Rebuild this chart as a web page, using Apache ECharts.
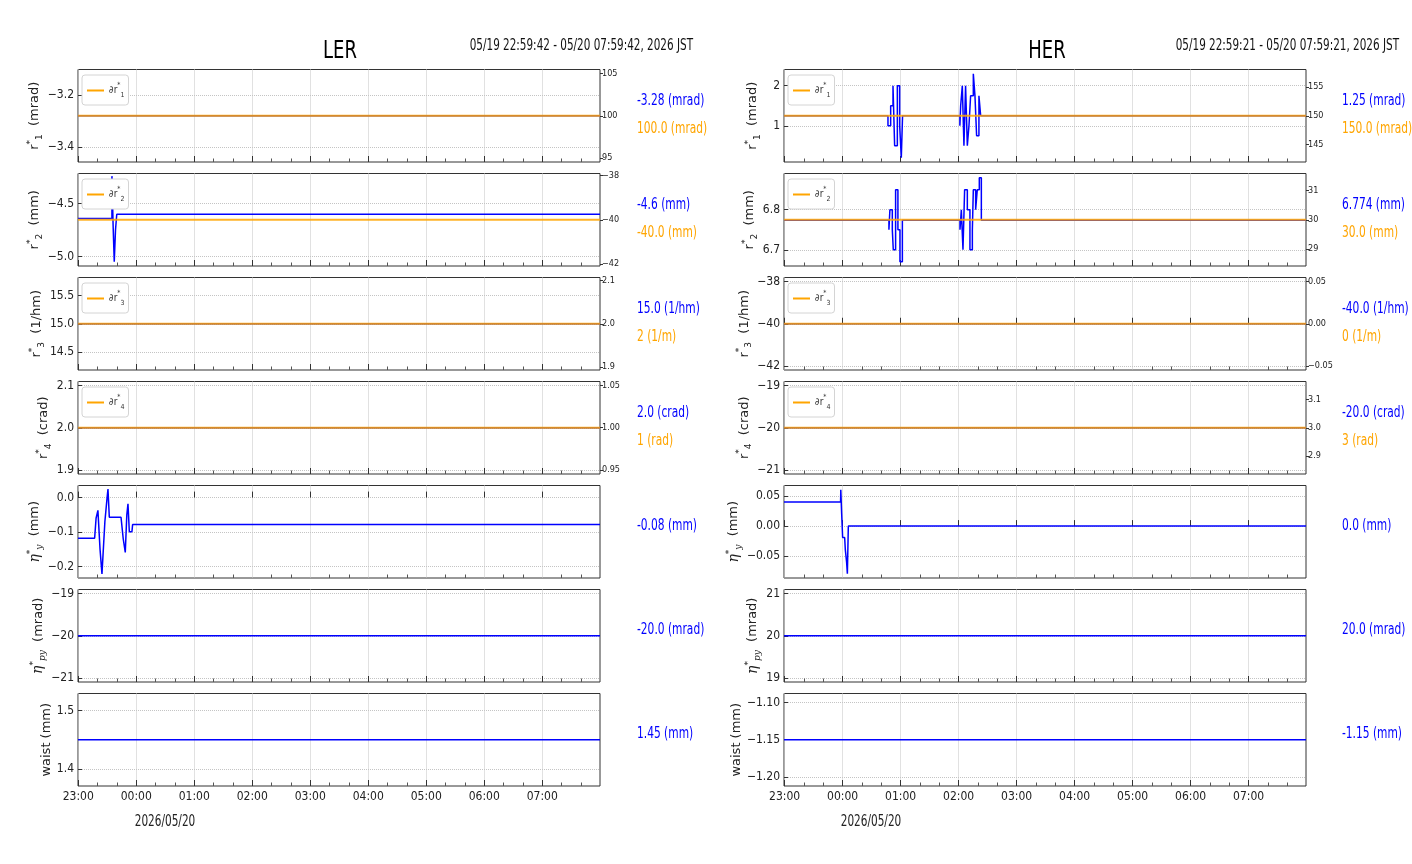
<!DOCTYPE html>
<html>
<head>
<meta charset="utf-8">
<script src="https://cdn.jsdelivr.net/npm/echarts@6/dist/echarts.min.js"></script>
<style>
html, body { margin: 0; padding: 0; background: #fff; }
#chart { width: 1412px; height: 864px; }
</style>
</head>
<body>
<div id="chart"></div>
<script>
// times are minutes after 2026/05/19 23:00 JST
var lerStart = -0.3, lerEnd = 539.7;     // 22:59:42 - 07:59:42
var herStart = -0.65, herEnd = 539.35;   // 22:59:21 - 07:59:21
var hourTicks = [0, 60, 120, 180, 240, 300, 360, 420, 480];
var minorTicks = [20, 40, 80, 100, 140, 160, 200, 220, 260, 280, 320, 340, 380, 400, 440, 460, 500, 520];

// LER readings [minute, value]
var lerR1 = [[lerStart, -3.28], [lerEnd, -3.28]];
var lerR2 = [[lerStart, -4.64], [34.8, -4.24], [36.0, -4.7], [37.2, -5.05], [38.5, -4.75], [39.8, -4.6], [lerEnd, -4.6]];
var lerR3 = [[lerStart, 15.0], [lerEnd, 15.0]];
var lerR4 = [[lerStart, 2.0], [lerEnd, 2.0]];
var lerEtaY = [[lerStart, -0.118], [16.9, -0.118], [18.4, -0.06], [20.3, -0.037], [22.5, -0.15], [24.5, -0.221],
  [27.5, -0.07], [29.8, 0.0], [30.7, 0.025], [31.4, 0.025], [32.1, -0.057], [44.2, -0.057], [46.5, -0.12],
  [48.6, -0.159], [50.2, -0.05], [51.4, -0.018], [52.8, -0.099], [55.5, -0.099], [56.2, -0.078], [lerEnd, -0.078]];
var lerEtaPy = [[lerStart, -20.0], [lerEnd, -20.0]];
var lerWaist = [[lerStart, 1.45], [lerEnd, 1.45]];
var lerSet = [100.0, -40.0, 2, 1];

// HER readings [minute, value]
var herR1 = [[herStart, 1.25], [106.9, 1.0], [109.7, 1.5], [112.1, 2.0], [113.8, 0.5], [116.6, 2.0], [119.0, 1.0],
  [120.7, 0.2], [122.0, 1.25], [181.3, 1.0], [182.1, 1.5], [183.8, 2.0], [185.5, 0.5], [187.2, 2.0], [189.0, 0.5],
  [190.7, 1.0], [192.4, 1.75], [195.2, 2.3], [196.9, 1.75], [198.6, 0.75], [201.0, 1.75], [202.8, 1.25], [herEnd, 1.25]];
var herR2 = [[herStart, 6.774], [107.9, 6.75], [108.9, 6.8], [111.4, 6.75], [112.4, 6.7], [114.8, 6.85], [117.2, 6.75],
  [119.3, 6.67], [121.8, 6.774], [181.4, 6.75], [182.8, 6.8], [184.5, 6.7], [186.2, 6.85], [189.0, 6.8], [191.7, 6.7],
  [194.2, 6.75], [195.2, 6.85], [197.6, 6.8], [199.3, 6.85], [201.4, 6.88], [203.5, 6.774], [herEnd, 6.774]];
var herR3 = [[herStart, -40.0], [herEnd, -40.0]];
var herR4 = [[herStart, -20.0], [herEnd, -20.0]];
var herEtaY = [[herStart, 0.0405], [57.9, 0.0405], [58.1, 0.061], [58.6, 0.061], [59.0, 0.021], [60.0, -0.019],
  [62.1, -0.019], [62.8, -0.04], [64.1, -0.06], [64.9, -0.08], [65.3, -0.08], [65.9, 0.0], [herEnd, 0.0]];
var herEtaPy = [[herStart, 20.0], [herEnd, 20.0]];
var herWaist = [[herStart, -1.15], [herEnd, -1.15]];
var herSet = [150.0, 30.0, 0, 3];

// tick values
var lerLeftTicks = [[-3.4, -3.2], [-5.0, -4.5], [14.5, 15.0, 15.5], [1.9, 2.0, 2.1], [-0.2, -0.1, 0.0], [-21, -20, -19], [1.4, 1.5]];
var lerLeftDec = [1, 1, 1, 1, 1, 0, 1];
var lerRightTicks = [[95, 100, 105], [-42, -40, -38], [1.9, 2.0, 2.1], [0.95, 1.0, 1.05]];
var lerRightDec = [0, 0, 1, 2];
var herLeftTicks = [[1, 2], [6.7, 6.8], [-42, -40, -38], [-21, -20, -19], [-0.05, 0.0, 0.05], [19, 20, 21], [-1.2, -1.15, -1.1]];
var herLeftDec = [0, 1, 0, 0, 2, 0, 2];
var herRightTicks = [[145, 150, 155], [29, 30, 31], [-0.05, 0.0, 0.05], [2.9, 3.0, 3.1]];
var herRightDec = [0, 0, 2, 1];

// readouts
var lerReadBlue = ['-3.28 (mrad)', '-4.6 (mm)', '15.0 (1/hm)', '2.0 (crad)', '-0.08 (mm)', '-20.0 (mrad)', '1.45 (mm)'];
var lerReadSet = ['100.0 (mrad)', '-40.0 (mm)', '2 (1/m)', '1 (rad)'];
var herReadBlue = ['1.25 (mrad)', '6.774 (mm)', '-40.0 (1/hm)', '-20.0 (crad)', '0.0 (mm)', '20.0 (mrad)', '-1.15 (mm)'];
var herReadSet = ['150.0 (mrad)', '30.0 (mm)', '0 (1/m)', '3 (rad)'];

var rowSub = ['1', '2', '3', '4', 'y', 'py', ''];
var rowUnit = ['mrad', 'mm', '1/hm', 'crad', 'mm', 'mrad', 'mm'];

// axis ranges (layout)
var lerLeftRange = [[-3.458, -3.102], [-5.09, -4.215], [14.18, 15.82], [1.8905, 2.1095], [-0.233, 0.035], [-21.1, -18.9], [1.3707, 1.5293]];
var lerRightRange = [[94.5, 105.5], [-42.1, -37.9], [1.893, 2.107], [0.945, 1.055]];
var herLeftRange = [[0.095, 2.405], [6.6595, 6.8905], [-42.19, -37.81], [-21.1, -18.9], [-0.087, 0.068], [18.9, 21.1], [-1.2122, -1.0878]];
var herRightRange = [[142, 158], [28.41, 31.59], [-0.0548, 0.0548], [2.836, 3.164]];

var NARROW = '"Liberation Sans Narrow", "DejaVu Sans Condensed", sans-serif';
var BLUE = '#0000ff', ORANGE = '#ffa500';
var BASE = Date.UTC(2026, 4, 19, 23, 0, 0);
var ROW_TOP = 69.5, ROW_PITCH = 104, ROW_H = 92.5, PLOT_W = 522;

function ts(m) { return BASE + m * 60000; }
function pts(arr) { return arr.map(function (p) { return [ts(p[0]), p[1]]; }); }
function pad(n) { return (n < 10 ? '0' : '') + n; }
function fmt(v, d) { return v.toFixed(d).replace('-', '\u2212'); }
function hhmm(v) { var d = new Date(v); return pad(d.getUTCHours()) + ':' + pad(d.getUTCMinutes()); }

var nameRich = {
	n: { fontFamily: 'DejaVu Sans', fontSize: 13, color: '#222', lineHeight: 18 },
	e: { fontFamily: 'DejaVu Serif', fontStyle: 'italic', fontSize: 14, color: '#222', lineHeight: 18 },
	sp: { fontFamily: 'DejaVu Sans', fontSize: 9, color: '#222', verticalAlign: 'top' },
	sb: { fontFamily: 'DejaVu Sans', fontSize: 9, color: '#222', verticalAlign: 'bottom' },
	si: { fontFamily: 'DejaVu Serif', fontStyle: 'italic', fontSize: 9, color: '#222', verticalAlign: 'bottom' }
};

function yName(i) {
	if (i < 4) return '{n|r}{sp|*}{sb|' + rowSub[i] + '}{n|  (' + rowUnit[i] + ')}';
	if (i < 6) return '{e|\u03b7}{sp|*}{si|' + rowSub[i] + '}{n|  (' + rowUnit[i] + ')}';
	return '{n|waist (' + rowUnit[i] + ')}';
}

var option = {
	animation: false,
	backgroundColor: '#fff',
	grid: [], xAxis: [], yAxis: [], series: [], legend: [], graphic: []
};

// free text, squeezed sideways like the original figure
function text(x, y, str, color, size, align, sx) {
	option.graphic.push({
		type: 'text', x: x, y: y, scaleX: sx, silent: true,
		style: {
			text: str, fill: color, font: size + 'px "DejaVu Sans"',
			textAlign: align, align: align, textVerticalAlign: 'middle', verticalAlign: 'middle'
		}
	});
}

function addRing(r) {
	var blues = r.blues;
	for (var i = 0; i < 7; i++) {
		var g = option.grid.length;
		var top = ROW_TOP + i * ROW_PITCH;
		option.grid.push({
			left: r.left, top: top, width: PLOT_W, height: ROW_H,
			show: true, borderColor: '#333', borderWidth: 1, backgroundColor: 'transparent'
		});
		var xi = option.xAxis.length;
		option.xAxis.push({
			type: 'value', gridIndex: g, position: 'bottom', min: ts(r.t0), max: ts(r.t1),
			axisLine: { show: false },
			axisTick: { show: true, inside: true, length: 6, customValues: hourTicks.map(ts), lineStyle: { color: '#333' } },
			axisLabel: {
				show: i === 6, customValues: hourTicks.map(ts), margin: 5,
				color: '#222', fontSize: 12, fontFamily: NARROW, formatter: hhmm
			},
			splitLine: { show: true, lineStyle: { color: '#c4c4c4', type: 'dotted', width: 1 } }
		});
		option.xAxis.push({
			type: 'value', gridIndex: g, position: 'bottom', min: ts(r.t0), max: ts(r.t1),
			axisLine: { show: false },
			axisTick: { show: true, inside: true, length: 3.5, customValues: minorTicks.map(ts), lineStyle: { color: '#555' } },
			axisLabel: { show: false },
			splitLine: { show: false }
		});
		var yl = option.yAxis.length;
		(function (dec) {
			option.yAxis.push({
				type: 'value', gridIndex: g, position: 'left',
				min: r.leftRange[i][0], max: r.leftRange[i][1],
				name: yName(i), nameLocation: 'middle', nameRotate: 90, nameGap: 22,
				nameTextStyle: { rich: nameRich },
				axisLine: { show: false },
				axisTick: { show: true, inside: true, length: 4, customValues: r.leftTicks[i], lineStyle: { color: '#333' } },
				axisLabel: {
					customValues: r.leftTicks[i], margin: 4, color: '#222', fontSize: 12, fontFamily: NARROW,
					formatter: function (v) { return fmt(v, dec); }
				},
				splitLine: { show: true, lineStyle: { color: '#c4c4c4', type: 'dotted', width: 1 } }
			});
		})(r.leftDec[i]);
		option.series.push({
			type: 'line', xAxisIndex: xi, yAxisIndex: yl, data: pts(blues[i]),
			step: i < 4 ? 'end' : false, showSymbol: false, symbol: 'none', silent: true,
			color: BLUE, lineStyle: { color: BLUE, width: 1.5 }, z: 2
		});
		var ry = ROW_TOP + 31.5 + i * ROW_PITCH;
		if (i < 4) {
			var yr = option.yAxis.length;
			(function (dec) {
				option.yAxis.push({
					type: 'value', gridIndex: g, position: 'right',
					min: r.rightRange[i][0], max: r.rightRange[i][1],
					axisLine: { show: false },
					axisTick: { show: true, inside: false, length: 3, customValues: r.rightTicks[i], lineStyle: { color: '#333' } },
					axisLabel: {
						customValues: r.rightTicks[i], margin: 2, color: '#222', fontSize: 9, fontFamily: NARROW,
						formatter: function (v) { return fmt(v, dec); }
					},
					splitLine: { show: false }
				});
			})(r.rightDec[i]);
			var nm = r.tag + ' r' + (i + 1);
			option.series.push({
				type: 'line', name: nm, xAxisIndex: xi, yAxisIndex: yr,
				data: pts([[r.t0, r.set[i]], [r.t1, r.set[i]]]),
				showSymbol: false, symbol: 'none', silent: true,
				color: ORANGE, lineStyle: { color: ORANGE, width: 2, opacity: 0.85 }, z: 3
			});
			option.legend.push({
				left: r.left + 4, top: top + 5.5, orient: 'vertical', data: [nm],
				icon: 'rect', itemWidth: 17, itemHeight: 2, selectedMode: false,
				backgroundColor: '#fff', borderColor: '#d4d4d4', borderWidth: 1, borderRadius: 3,
				padding: [7, 4, 6, 5],
				formatter: function (n) { return '{a|\u2202r}{s|*}{b|' + n.slice(-1) + '}'; },
				textStyle: {
					color: '#333', fontSize: 10,
					rich: {
						a: { fontFamily: NARROW, fontSize: 10, color: '#333', lineHeight: 17 },
						s: { fontFamily: NARROW, fontSize: 7, color: '#333', verticalAlign: 'top' },
						b: { fontFamily: NARROW, fontSize: 7, color: '#333', verticalAlign: 'bottom' }
					}
				}
			});
			text(r.readX, ry, r.readBlue[i], BLUE, 15, 'left', 0.71);
			text(r.readX, ry + 28, r.readSet[i], ORANGE, 15, 'left', 0.71);
		} else {
			text(r.readX, ROW_TOP + 456.5 + (i - 4) * ROW_PITCH, r.readBlue[i], BLUE, 15, 'left', 0.71);
		}
	}
	text(r.titleX, 51, r.tag, '#000', 25, 'center', 0.72);
	text(r.dateX, 46, r.date, '#111', 15, 'right', 0.695);
	text(r.left + 87, 822, '2026/05/20', '#222', 15, 'center', 0.7);
}

addRing({
	tag: 'LER', left: 78, t0: lerStart, t1: lerEnd, readX: 637, titleX: 340, dateX: 693,
	date: '05/19 22:59:42 - 05/20 07:59:42, 2026 JST',
	blues: [lerR1, lerR2, lerR3, lerR4, lerEtaY, lerEtaPy, lerWaist], set: lerSet,
	leftTicks: lerLeftTicks, leftDec: lerLeftDec, leftRange: lerLeftRange,
	rightTicks: lerRightTicks, rightDec: lerRightDec, rightRange: lerRightRange,
	readBlue: lerReadBlue, readSet: lerReadSet
});
addRing({
	tag: 'HER', left: 784, t0: herStart, t1: herEnd, readX: 1342, titleX: 1047, dateX: 1399,
	date: '05/19 22:59:21 - 05/20 07:59:21, 2026 JST',
	blues: [herR1, herR2, herR3, herR4, herEtaY, herEtaPy, herWaist], set: herSet,
	leftTicks: herLeftTicks, leftDec: herLeftDec, leftRange: herLeftRange,
	rightTicks: herRightTicks, rightDec: herRightDec, rightRange: herRightRange,
	readBlue: herReadBlue, readSet: herReadSet
});

var myChart = echarts.init(document.getElementById('chart'), null, { renderer: 'canvas' });
myChart.setOption(option);
</script>
</body>
</html>
